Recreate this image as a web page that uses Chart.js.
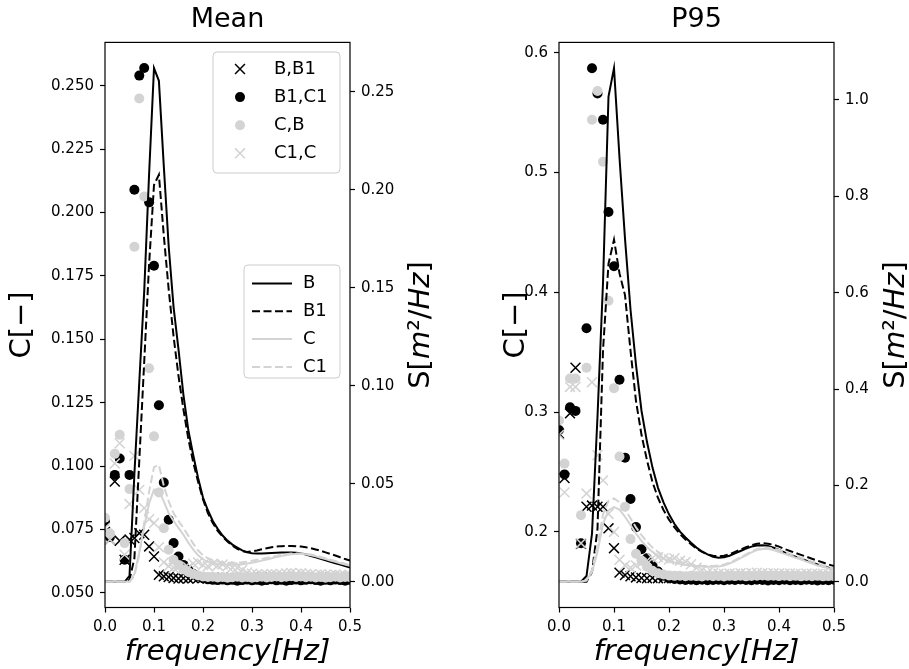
<!DOCTYPE html>
<html>
<head>
<meta charset="utf-8">
<script src="https://cdn.jsdelivr.net/npm/chart.js@4/dist/chart.umd.min.js"></script>
<style>
  html, body { margin: 0; padding: 0; background: #fff; }
  #wrap { position: relative; width: 909px; height: 669px; }
  canvas { position: absolute; top: 0; }
</style>
</head>
<body>
<div id="wrap">
  <canvas id="mean" width="455" height="669" style="left:0px"></canvas>
  <canvas id="p95" width="454" height="669" style="left:455px"></canvas>
</div>
<script>
// frequency bins shared by every series
const freq = [
  0.00, 0.01, 0.02, 0.03, 0.04, 0.05, 0.06, 0.07, 0.08, 0.09,
  0.10, 0.11, 0.12, 0.13, 0.14, 0.15, 0.16, 0.17, 0.18, 0.19,
  0.20, 0.21, 0.22, 0.23, 0.24, 0.25, 0.26, 0.27, 0.28, 0.29,
  0.30, 0.31, 0.32, 0.33, 0.34, 0.35, 0.36, 0.37, 0.38, 0.39,
  0.40, 0.41, 0.42, 0.43, 0.44, 0.45, 0.46, 0.47, 0.48, 0.49,
  0.50
];

const lineNames = ['B', 'B1', 'C', 'C1'];
const pairNames = ['B,B1', 'B1,C1', 'C,B', 'C1,C'];

const xTicks = [0.0, 0.1, 0.2, 0.3, 0.4, 0.5];
const meanCTicks = [0.05, 0.075, 0.1, 0.125, 0.15, 0.175, 0.2, 0.225, 0.25];
const meanSTicks = [0.0, 0.05, 0.1, 0.15, 0.2, 0.25];
const p95CTicks = [0.2, 0.3, 0.4, 0.5, 0.6];
const p95STicks = [0.0, 0.2, 0.4, 0.6, 0.8, 1.0];

// ---- Mean : spectra S [m2/Hz]
const meanSpecB = [
  0, 0, 0, 0, 0, 0.003, 0.055, 0.102, 0.148, 0.208,
  0.262, 0.2555, 0.212, 0.171, 0.140, 0.1186, 0.0955, 0.0775, 0.0647, 0.053,
  0.043, 0.0365, 0.031, 0.027, 0.0236, 0.021, 0.019, 0.0175, 0.016, 0.015,
  0.0146, 0.0145, 0.0145, 0.0146, 0.0147, 0.0148, 0.0149, 0.015, 0.015, 0.0148,
  0.0145, 0.0139, 0.0132, 0.0125, 0.0117, 0.011, 0.0102, 0.0095, 0.0088, 0.008,
  0.0073
];
const meanSpecB1 = [
  0, 0, 0, 0, 0, 0.001, 0.012, 0.062, 0.112, 0.162,
  0.2024, 0.2076, 0.1766, 0.149, 0.125, 0.105, 0.088, 0.073, 0.061, 0.051,
  0.042, 0.035, 0.030, 0.026, 0.023, 0.0205, 0.0185, 0.0168, 0.0156, 0.0152,
  0.0155, 0.016, 0.0166, 0.0171, 0.0176, 0.018, 0.0182, 0.0183, 0.0183, 0.0182,
  0.018, 0.0176, 0.0171, 0.0165, 0.0158, 0.015, 0.0142, 0.0134, 0.0125, 0.0116,
  0.0108
];
const meanSpecC = [
  0, 0, 0, 0, 0, 0, 0.004, 0.015, 0.028, 0.040,
  0.047, 0.0465, 0.041, 0.035, 0.031, 0.0275, 0.024, 0.020, 0.0165, 0.0135,
  0.0115, 0.0101, 0.0095, 0.009, 0.0088, 0.0087, 0.0087, 0.0088, 0.009, 0.0093,
  0.0097, 0.0102, 0.0108, 0.0114, 0.012, 0.0126, 0.0132, 0.0137, 0.014, 0.0142,
  0.0142, 0.014, 0.0135, 0.013, 0.0123, 0.0116, 0.0109, 0.0102, 0.0095, 0.0088,
  0.0082
];
const meanSpecC1 = [
  0, 0, 0, 0, 0, 0, 0.003, 0.014, 0.030, 0.046,
  0.0585, 0.0595, 0.049, 0.041, 0.035, 0.031, 0.0275, 0.0235, 0.0195, 0.016,
  0.0135, 0.012, 0.011, 0.0103, 0.0099, 0.0097, 0.0097, 0.0098, 0.01, 0.0103,
  0.0107, 0.0112, 0.0117, 0.0122, 0.0127, 0.0132, 0.0137, 0.0141, 0.0144, 0.0145,
  0.0145, 0.0143, 0.0139, 0.0134, 0.0127, 0.012, 0.0113, 0.0106, 0.0099, 0.0092,
  0.0085
];

// ---- Mean : coherence C [-]
const meanCohBB1 = [
  0.074, 0.071, 0.0939, 0.0705, 0.063, 0.071, 0.0716, 0.0735, 0.0729, 0.0683,
  0.0643, 0.0571, 0.0565, 0.0562, 0.0558, 0.0556, 0.0557, 0.0556, 0.0558, 0.0557,
  0.0558, 0.0556, 0.0558, 0.0557, 0.0559, 0.0557, 0.0556, 0.0558, 0.0557, 0.0556,
  0.0558, 0.0557, 0.0559, 0.0557, 0.0556, 0.0558, 0.0559, 0.0557, 0.0558, 0.0556,
  0.0558, 0.0559, 0.0557, 0.0558, 0.0556, 0.0557, 0.0559, 0.0557, 0.0558, 0.0556,
  0.0558
];
const meanCohB1C1 = [
  0.078, 0.072, 0.0965, 0.103, 0.063, 0.0965, 0.209, 0.254, 0.257, 0.204,
  0.179, 0.124, 0.0935, 0.0788, 0.0696, 0.0643, 0.061, 0.059, 0.0575, 0.0565,
  0.0558, 0.0553, 0.0551, 0.055, 0.0552, 0.0549, 0.0551, 0.0548, 0.055, 0.0552,
  0.0549, 0.0551, 0.0548, 0.055, 0.0553, 0.0549, 0.0551, 0.0548, 0.055, 0.0552,
  0.0549, 0.0551, 0.0553, 0.055, 0.0548, 0.0551, 0.0549, 0.0552, 0.055, 0.0548,
  0.0551
];
const meanCohCB = [
  0.0796, 0.0735, 0.1048, 0.1123, 0.0696, 0.0909, 0.1865, 0.245, 0.2063, 0.1386,
  0.1117, 0.0896, 0.0755, 0.067, 0.063, 0.061, 0.0592, 0.0582, 0.0574, 0.0568,
  0.0564, 0.0562, 0.0563, 0.056, 0.0562, 0.0559, 0.0561, 0.0563, 0.056, 0.0562,
  0.0559, 0.0561, 0.0563, 0.056, 0.0562, 0.0564, 0.0561, 0.0563, 0.0565, 0.0562,
  0.0564, 0.0561, 0.0563, 0.056, 0.0562, 0.0559, 0.0561, 0.0563, 0.056, 0.0562,
  0.0561
];
const meanCohC1C = [
  0.0756, 0.071, 0.101, 0.109, 0.065, 0.085, 0.104, 0.0906, 0.0834, 0.079,
  0.0775, 0.068, 0.062, 0.0605, 0.0598, 0.0602, 0.0595, 0.060, 0.0615, 0.062,
  0.061, 0.0605, 0.0615, 0.0608, 0.0612, 0.0605, 0.060, 0.0598, 0.059, 0.058,
  0.0575, 0.0572, 0.057, 0.0572, 0.0574, 0.0571, 0.0573, 0.0576, 0.0578, 0.0575,
  0.0577, 0.0574, 0.0572, 0.057, 0.0573, 0.0571, 0.0569, 0.0572, 0.057, 0.0568,
  0.057
];

// ---- P95 : spectra S [m2/Hz]
const p95SpecB = [
  0, 0, 0, 0, 0, 0.012, 0.10, 0.343, 0.62, 1.007,
  1.066, 0.88, 0.712, 0.565, 0.45, 0.355, 0.29, 0.237, 0.195, 0.165,
  0.14, 0.12, 0.104, 0.092, 0.081, 0.071, 0.063, 0.057, 0.052, 0.050,
  0.051, 0.054, 0.059, 0.064, 0.069, 0.073, 0.0755, 0.076, 0.0745, 0.071,
  0.066, 0.061, 0.056, 0.052, 0.048, 0.044, 0.040, 0.036, 0.032, 0.029,
  0.026
];
const p95SpecB1 = [
  0, 0, 0, 0, 0, 0, 0.02, 0.11, 0.48, 0.66,
  0.71, 0.64, 0.595, 0.48, 0.375, 0.305, 0.252, 0.207, 0.174, 0.149,
  0.129, 0.113, 0.099, 0.088, 0.078, 0.069, 0.062, 0.057, 0.054, 0.053,
  0.054, 0.057, 0.062, 0.067, 0.072, 0.076, 0.079, 0.080, 0.079, 0.077,
  0.073, 0.068, 0.064, 0.060, 0.056, 0.052, 0.048, 0.044, 0.040, 0.036,
  0.033
];
const p95SpecC = [
  0, 0, 0, 0, 0, 0.003, 0.02, 0.062, 0.12, 0.148,
  0.155, 0.150, 0.135, 0.118, 0.100, 0.085, 0.072, 0.062, 0.054, 0.048,
  0.043, 0.040, 0.037, 0.035, 0.034, 0.033, 0.032, 0.031, 0.031, 0.032,
  0.034, 0.038, 0.043, 0.049, 0.055, 0.061, 0.066, 0.068, 0.068, 0.066,
  0.062, 0.058, 0.054, 0.050, 0.046, 0.042, 0.038, 0.034, 0.031, 0.028,
  0.025
];
const p95SpecC1 = [
  0, 0, 0, 0, 0, 0.003, 0.025, 0.075, 0.14, 0.168,
  0.173, 0.165, 0.150, 0.132, 0.113, 0.097, 0.083, 0.071, 0.062, 0.055,
  0.049, 0.045, 0.041, 0.038, 0.036, 0.034, 0.033, 0.033, 0.033, 0.034,
  0.036, 0.040, 0.045, 0.051, 0.057, 0.063, 0.068, 0.071, 0.071, 0.069,
  0.066, 0.062, 0.058, 0.054, 0.050, 0.046, 0.042, 0.038, 0.034, 0.031,
  0.028
];

// ---- P95 : coherence C [-]
const p95CohBB1 = [
  0.282, 0.245, 0.299, 0.337, 0.19, 0.221, 0.222, 0.221, 0.221, 0.203,
  0.1864, 0.166, 0.164, 0.163, 0.162, 0.1615, 0.1613, 0.1616, 0.1614, 0.1612,
  0.1615, 0.1613, 0.1616, 0.1614, 0.1612, 0.1615, 0.1613, 0.1611, 0.1614, 0.1616,
  0.1613, 0.1615, 0.1612, 0.1614, 0.1616, 0.1613, 0.1611, 0.1614, 0.1616, 0.1613,
  0.1615, 0.1612, 0.1614, 0.1616, 0.1613, 0.1611, 0.1614, 0.1612, 0.1615, 0.1613,
  0.1614
];
const p95CohB1C1 = [
  0.285, 0.248, 0.304, 0.301, 0.1906, 0.370, 0.587, 0.566, 0.544, 0.467,
  0.4217, 0.327, 0.262, 0.2275, 0.204, 0.1856, 0.178, 0.172, 0.167, 0.1635,
  0.1615, 0.1607, 0.1602, 0.1598, 0.1601, 0.1597, 0.16, 0.1596, 0.1599, 0.1601,
  0.1597, 0.16, 0.1598, 0.1602, 0.1599, 0.1596, 0.16, 0.1598, 0.1595, 0.1599,
  0.1597, 0.1601, 0.1596, 0.1599, 0.1597, 0.1601, 0.1598, 0.1595, 0.1599, 0.1597,
  0.16
];
const p95CohCB = [
  0.293, 0.257, 0.328, 0.328, 0.214, 0.337, 0.544, 0.568, 0.509, 0.393,
  0.32, 0.263, 0.221, 0.194, 0.1817, 0.176, 0.171, 0.1675, 0.1655, 0.1645,
  0.1637, 0.1633, 0.1635, 0.163, 0.1633, 0.1631, 0.1628, 0.1634, 0.163, 0.1632,
  0.1628, 0.1633, 0.1631, 0.1635, 0.1629, 0.1632, 0.1634, 0.1637, 0.1633, 0.1635,
  0.1631, 0.1634, 0.163, 0.1633, 0.1629, 0.1632, 0.163, 0.1633, 0.1629, 0.1631,
  0.163
];
const p95CohC1C = [
  0.281, 0.233, 0.321, 0.321, 0.1906, 0.232, 0.325, 0.264, 0.243, 0.215,
  0.20, 0.1767, 0.172, 0.170, 0.172, 0.174, 0.176, 0.178, 0.179, 0.178,
  0.177, 0.178, 0.176, 0.175, 0.173, 0.170, 0.168, 0.166, 0.1655, 0.165,
  0.1648, 0.1652, 0.165, 0.1655, 0.1652, 0.1658, 0.166, 0.1655, 0.1652, 0.1656,
  0.1653, 0.165, 0.1654, 0.1651, 0.1649, 0.1652, 0.165, 0.1648, 0.1651, 0.1649,
  0.165
];

const FONT = 'DejaVu Sans';
const BLACK = '#000000';
const GREY = '#d3d3d3';
Chart.defaults.font.family = FONT;
Chart.defaults.color = '#000';

function series(ys) {
  return freq.map(function (f, i) { return {x: f, y: ys[i]}; });
}

function spectrumSet(label, ys, color, dashed, order) {
  return {
    type: 'line', label: label, data: series(ys), yAxisID: 'yS', order: order,
    borderColor: color, backgroundColor: color, borderWidth: 2,
    borderDash: dashed ? [8, 3.5] : [],
    pointRadius: 0, pointHoverRadius: 0, tension: 0, fill: false, clip: 0
  };
}

function coherenceSet(label, ys, color, cross, order) {
  const r = cross ? 7 : 5;
  return {
    type: 'scatter', label: label, data: series(ys), yAxisID: 'yC', order: order,
    showLine: false, pointStyle: cross ? 'crossRot' : 'circle',
    pointRadius: r, pointHoverRadius: r,
    pointBorderWidth: cross ? 1.5 : 0, pointHoverBorderWidth: cross ? 1.5 : 0,
    pointBorderColor: color, pointBackgroundColor: color,
    borderColor: color, backgroundColor: color, clip: 0
  };
}

// box around the plot area (all four spines)
const frame = {
  id: 'frame',
  afterDatasetsDraw(chart) {
    const ctx = chart.ctx, a = chart.chartArea;
    ctx.save();
    ctx.strokeStyle = '#000';
    ctx.lineWidth = 1.2;
    ctx.strokeRect(a.left, a.top, a.right - a.left, a.bottom - a.top);
    ctx.restore();
  }
};

// right axis label, read bottom to top, with the italic math part
const sideTitle = {
  id: 'sideTitle',
  afterDraw(chart, args, opts) {
    if (!opts.parts) return;
    const ctx = chart.ctx, a = chart.chartArea;
    ctx.save();
    ctx.translate(opts.x, (a.top + a.bottom) / 2);
    ctx.rotate(-Math.PI / 2);
    ctx.fillStyle = '#000';
    ctx.textBaseline = 'middle';
    ctx.textAlign = 'left';
    let total = 0;
    opts.parts.forEach(function (p) {
      ctx.font = p.style + ' ' + opts.size + 'px "' + FONT + '"';
      total += ctx.measureText(p.text).width;
    });
    let cx = -total / 2;
    opts.parts.forEach(function (p) {
      ctx.font = p.style + ' ' + opts.size + 'px "' + FONT + '"';
      ctx.fillText(p.text, cx, 0);
      cx += ctx.measureText(p.text).width;
    });
    ctx.restore();
  }
};

function roundBox(ctx, x, y, w, h, r) {
  ctx.beginPath();
  ctx.moveTo(x + r, y);
  ctx.lineTo(x + w - r, y);
  ctx.arcTo(x + w, y, x + w, y + r, r);
  ctx.lineTo(x + w, y + h - r);
  ctx.arcTo(x + w, y + h, x + w - r, y + h, r);
  ctx.lineTo(x + r, y + h);
  ctx.arcTo(x, y + h, x, y + h - r, r);
  ctx.lineTo(x, y + r);
  ctx.arcTo(x, y, x + r, y, r);
  ctx.closePath();
}

// two matplotlib-like legend boxes inside the axes
const boxLegends = {
  id: 'boxLegends',
  afterDraw(chart, args, opts) {
    if (!opts.boxes) return;
    const ctx = chart.ctx;
    opts.boxes.forEach(function (b) {
      ctx.save();
      roundBox(ctx, b.x, b.y, b.w, b.h, 4);
      ctx.fillStyle = 'rgba(255,255,255,0.8)';
      ctx.fill();
      ctx.strokeStyle = '#cccccc';
      ctx.lineWidth = 1;
      ctx.stroke();
      b.items.forEach(function (idx, row) {
        const ds = chart.data.datasets[idx];
        const y = b.rowY + row * b.rowStep;
        if (ds.type === 'line') {
          ctx.beginPath();
          ctx.setLineDash(ds.borderDash);
          ctx.strokeStyle = ds.borderColor;
          ctx.lineWidth = ds.borderWidth;
          ctx.moveTo(b.handleX - 20, y);
          ctx.lineTo(b.handleX + 20, y);
          ctx.stroke();
          ctx.setLineDash([]);
        } else if (ds.pointStyle === 'circle') {
          ctx.beginPath();
          ctx.fillStyle = ds.pointBackgroundColor;
          ctx.arc(b.handleX, y, ds.pointRadius, 0, Math.PI * 2);
          ctx.fill();
        } else {
          const d = ds.pointRadius * Math.SQRT1_2;
          ctx.beginPath();
          ctx.strokeStyle = ds.pointBorderColor;
          ctx.lineWidth = ds.pointBorderWidth;
          ctx.moveTo(b.handleX - d, y - d); ctx.lineTo(b.handleX + d, y + d);
          ctx.moveTo(b.handleX - d, y + d); ctx.lineTo(b.handleX + d, y - d);
          ctx.stroke();
        }
        ctx.fillStyle = '#000';
        ctx.font = b.fontSize + 'px "' + FONT + '"';
        ctx.textBaseline = 'middle';
        ctx.textAlign = 'left';
        ctx.fillText(ds.label, b.textX, y);
      });
      ctx.restore();
    });
  }
};

function crearPanel(id, cfg) {
  const el = document.getElementById(id);
  const tickFont = {family: FONT, size: 15};
  const grid = {drawOnChartArea: false, drawTicks: true, tickLength: 5, tickWidth: 1.2, tickColor: '#000'};
  const datasets = [
    spectrumSet(lineNames[0], cfg.spec[0], BLACK, false, 4),
    spectrumSet(lineNames[1], cfg.spec[1], BLACK, true, 3),
    spectrumSet(lineNames[2], cfg.spec[2], GREY, false, 2),
    spectrumSet(lineNames[3], cfg.spec[3], GREY, true, 1),
    coherenceSet(pairNames[0], cfg.coh[0], BLACK, true, 8),
    coherenceSet(pairNames[1], cfg.coh[1], BLACK, false, 7),
    coherenceSet(pairNames[2], cfg.coh[2], GREY, false, 6),
    coherenceSet(pairNames[3], cfg.coh[3], GREY, true, 5)
  ];
  return new Chart(el, {
    type: 'scatter',
    data: {datasets: datasets},
    options: {
      responsive: false,
      animation: false,
      devicePixelRatio: 1,
      events: [],
      layout: {padding: 0},
      plugins: {
        legend: {display: false},
        tooltip: {enabled: false},
        title: {
          display: true, text: cfg.title, fullSize: false, color: '#000',
          font: {family: FONT, size: 27, weight: 'normal', lineHeight: 1.2},
          padding: {top: 3.5, bottom: 6.5}
        },
        sideTitle: {
          x: cfg.sX, size: 29,
          parts: [
            {text: 'S[', style: 'normal'},
            {text: 'm', style: 'italic'},
            {text: '²/', style: 'normal'},
            {text: 'Hz', style: 'italic'},
            {text: ']', style: 'normal'}
          ]
        },
        boxLegends: cfg.legends ? {boxes: cfg.legends} : {}
      },
      scales: {
        x: {
          type: 'linear', position: 'bottom', min: 0, max: 0.5,
          afterBuildTicks: function (s) { s.ticks = xTicks.map(function (v) { return {value: v}; }); },
          afterFit: function (s) { s.height = 61.5; },
          ticks: {font: tickFont, color: '#000', padding: 6, maxRotation: 0, autoSkip: false,
                  callback: function (v) { return v.toFixed(1); }},
          grid: grid, border: {display: false},
          title: {display: true, text: 'frequency[Hz]', color: '#000',
                  font: {family: FONT, size: 29, style: 'italic', lineHeight: 1},
                  padding: {top: 0, bottom: 2}}
        },
        yC: {
          type: 'linear', position: 'left', min: cfg.cRange[0], max: cfg.cRange[1],
          afterBuildTicks: function (s) { s.ticks = cfg.cTicks.map(function (v) { return {value: v}; }); },
          afterFit: function (s) { s.width = cfg.leftW; },
          ticks: {font: tickFont, color: '#000', padding: 6, autoSkip: false,
                  callback: function (v) { return v.toFixed(cfg.cDec); }},
          grid: grid, border: {display: false},
          title: {display: true, text: 'C[−]', color: '#000',
                  font: {family: FONT, size: 29, lineHeight: 1},
                  padding: {top: cfg.cPad, bottom: 0}}
        },
        yS: {
          type: 'linear', position: 'right', min: cfg.sRange[0], max: cfg.sRange[1],
          afterBuildTicks: function (s) { s.ticks = cfg.sTicks.map(function (v) { return {value: v}; }); },
          afterFit: function (s) { s.width = cfg.rightW; },
          ticks: {font: tickFont, color: '#000', padding: 6, autoSkip: false,
                  callback: function (v) { return v.toFixed(cfg.sDec); }},
          grid: grid, border: {display: false},
          title: {display: false}
        }
      }
    },
    plugins: [frame, sideTitle, boxLegends]
  });
}

crearPanel('mean', {
  title: 'Mean',
  spec: [meanSpecB, meanSpecB1, meanSpecC, meanSpecC1],
  coh: [meanCohBB1, meanCohB1C1, meanCohCB, meanCohC1C],
  cRange: [0.0442, 0.2671], sRange: [-0.0131, 0.2751],
  cTicks: meanCTicks, sTicks: meanSTicks, cDec: 3, sDec: 2,
  leftW: 105, rightW: 105, cPad: 8, sX: 421.5,
  legends: [
    {x: 213, y: 52, w: 127, h: 121, rowY: 69, rowStep: 28.1, handleX: 240, textX: 274, fontSize: 18, items: [4, 5, 6, 7]},
    {x: 244, y: 265, w: 96, h: 113, rowY: 283.5, rowStep: 27.8, handleX: 272, textX: 303, fontSize: 18, items: [0, 1, 2, 3]}
  ]
});

crearPanel('p95', {
  title: 'P95',
  spec: [p95SpecB, p95SpecB1, p95SpecC, p95SpecC1],
  coh: [p95CohBB1, p95CohB1C1, p95CohCB, p95CohC1C],
  cRange: [0.1369, 0.6086], sRange: [-0.0533, 1.1193],
  cTicks: p95CTicks, sTicks: p95STicks, cDec: 1, sDec: 1,
  leftW: 104, rightW: 75, cPad: 47, sX: 441,
  legends: null
});
</script>
</body>
</html>
